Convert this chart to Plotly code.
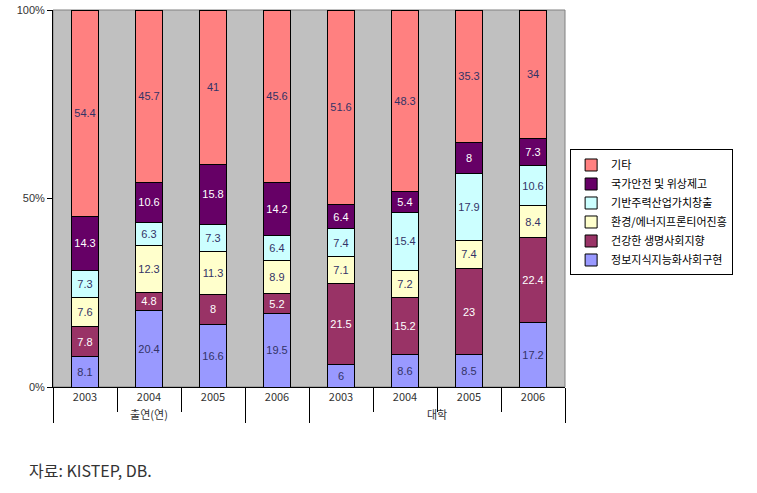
import plotly.graph_objects as go

groups = ["출연(연)", "출연(연)", "출연(연)", " ", "대학", "대학", "대학", "대학"]
years = ["2003", "2004", "2005", "2006", "2003", "2004", "2005", "2006"]

info = [8.1, 20.4, 16.6, 19.5, 6, 8.6, 8.5, 17.2]
health = [7.8, 4.8, 8, 5.2, 21.5, 15.2, 23, 22.4]
env = [7.6, 12.3, 11.3, 8.9, 7.1, 7.2, 7.4, 8.4]
base = [7.3, 6.3, 7.3, 6.4, 7.4, 15.4, 17.9, 10.6]
safety = [14.3, 10.6, 15.8, 14.2, 6.4, 5.4, 8, 7.3]
other = [54.4, 45.7, 41, 45.6, 51.6, 48.3, 35.3, 34]

series = [
    ("정보지식지능화사회구현", info, "#9999FF", "#333366"),
    ("건강한 생명사회지향", health, "#993366", "#FFFFFF"),
    ("환경/에너지프론티어진흥", env, "#FFFFCC", "#333366"),
    ("기반주력산업가치창출", base, "#CCFFFF", "#333366"),
    ("국가안전 및 위상제고", safety, "#660066", "#FFFFFF"),
    ("기타", other, "#FF8080", "#333366"),
]

FONT = "Liberation Sans, Arial, Noto Sans CJK KR, sans-serif"

fig = go.Figure()
for name, vals, color, tcolor in series:
    fig.add_trace(go.Bar(
        name=name,
        x=[groups, years],
        y=vals,
        text=[f"{v:g}" for v in vals],
        textposition="inside",
        insidetextanchor="middle",
        textangle=0,
        textfont=dict(color=tcolor, size=11, family=FONT),
        marker=dict(color=color, line=dict(color="#000000", width=1)),
        hoverinfo="skip",
    ))

fig.update_layout(
    width=757, height=493,
    margin=dict(l=53, r=192, t=10, b=106, autoexpand=False),
    barmode="stack",
    barnorm="percent",
    bargap=0.59,
    plot_bgcolor="#C0C0C0",
    paper_bgcolor="#FFFFFF",
    font=dict(family=FONT, size=11, color="#000000"),
    uniformtext=dict(minsize=11, mode="show"),
    legend=dict(
        x=1.01, xanchor="left", y=0.63, yanchor="top",
        traceorder="reversed",
        bordercolor="#000000", borderwidth=1,
        font=dict(size=11, family="Noto Sans CJK KR, sans-serif"),
        itemwidth=30,
        tracegroupgap=0,
    ),
    showlegend=True,
)

fig.update_yaxes(
    range=[0, 100],
    tickvals=[0, 50, 100],
    ticktext=["0%", "50%", "100%"],
    ticks="outside", ticklen=5, tickcolor="#000000",
    showline=True, linecolor="#000000", linewidth=1,
    showgrid=False, zeroline=False, automargin=False,
    tickfont=dict(size=11, color="#333333"),
)

fig.update_xaxes(
    type="multicategory",
    showline=True, linecolor="#000000", linewidth=1,
    ticks="outside", tickson="boundaries", ticklen=24, tickcolor="#000000",
    showdividers=True, dividercolor="#000000", dividerwidth=1,
    showgrid=False, automargin=True,
    tickfont=dict(size=11, color="#333333", family="Noto Sans CJK KR, sans-serif"),
)

fig.add_shape(type="rect", xref="paper", yref="paper", x0=0, x1=1, y0=0, y1=1,
              line=dict(color="#808080", width=1), layer="below")

fig.add_annotation(
    text="자료: KISTEP, DB.",
    xref="paper", yref="paper", x=-0.05, y=-0.22,
    xanchor="left", yanchor="middle", showarrow=False,
    font=dict(size=16, color="#333333", family="Noto Sans CJK KR, sans-serif"),
)

fig.write_html("out.html")
